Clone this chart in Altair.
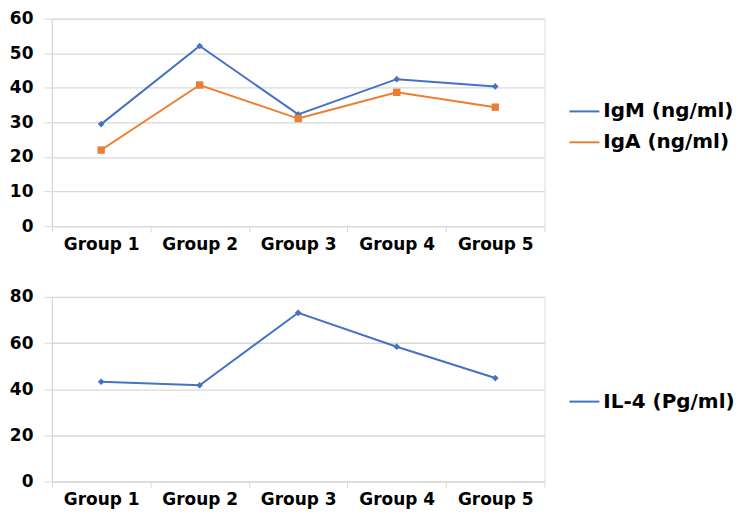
import altair as alt
import pandas as pd

groups = ["Group 1", "Group 2", "Group 3", "Group 4", "Group 5"]
igm = [29.5, 52.1, 32.3, 42.5, 40.4]
iga = [22.0, 40.8, 31.1, 38.7, 34.4]
il4 = [43.2, 41.7, 73.1, 58.4, 44.8]

s_igm = "IgM (ng/ml)"
s_iga = "IgA (ng/ml)"
s_il4 = "IL-4 (Pg/ml)"

BLUE = "#4472C4"
ORANGE = "#ED7D31"
GRID = "#d9d9d9"
FONT = "DejaVu Sans"

top_df = pd.DataFrame(
    {"group": groups * 2,
     "series": [s_igm] * 5 + [s_iga] * 5,
     "value": igm + iga}
)
bot_df = pd.DataFrame({"group": groups, "series": [s_il4] * 5, "value": il4})

W = 494


def xenc():
    return alt.X(
        "group:N", sort=groups, title=None,
        scale=alt.Scale(paddingInner=0, paddingOuter=0),
        axis=alt.Axis(labelAngle=0, labelFont=FONT, labelFontSize=17, labelFontWeight="bold",
                      labelColor="#000000", domainColor=GRID, tickColor=GRID, tickSize=6,
                      tickBand="extent", labelPadding=4, grid=False, domainWidth=1.3),
    )


def yenc(maxv, step):
    return alt.Y(
        "value:Q", title=None,
        scale=alt.Scale(domain=[0, maxv], nice=False),
        axis=alt.Axis(values=list(range(0, maxv + 1, step)), labelFont=FONT, labelFontSize=17,
                      labelFontWeight="bold", labelColor="#000000", domainColor=GRID,
                      tickColor=GRID, tickSize=8, gridColor=GRID, gridWidth=1.3,
                      labelPadding=11, domainWidth=1.3),
    )


def panel(df, domain, colors, shapes, sizes, maxv, step, h, ly):
    color_scale = alt.Scale(domain=domain, range=colors)
    line = alt.Chart(df).mark_line(strokeWidth=2).encode(
        x=xenc(), y=yenc(maxv, step),
        color=alt.Color("series:N", scale=color_scale, sort=domain,
                        legend=alt.Legend(title=None, orient="none", legendX=W + 24, legendY=ly,
                                          symbolType="stroke", symbolSize=900,
                                          symbolStrokeWidth=2, labelFont=FONT,
                                          labelFontSize=20, labelFontWeight="bold",
                                          labelColor="#000000", rowPadding=5,
                                          labelOffset=3)),
    )
    layers = [line]
    for s, c, shp, sz in zip(domain, colors, shapes, sizes):
        layers.append(
            alt.Chart(df).transform_filter(alt.datum.series == s)
            .mark_point(filled=True, opacity=1, color=c, shape=shp, size=sz)
            .encode(x=xenc(), y=yenc(maxv, step))
        )
    return alt.layer(*layers).properties(width=W, height=h)


top = panel(top_df, [s_igm, s_iga], [BLUE, ORANGE], ["diamond", "square"], [45, 55], 60, 10, 208, 77)
bot = panel(bot_df, [s_il4], [BLUE], ["diamond"], [45], 80, 20, 185, 89)

chart = alt.vconcat(top, bot, spacing=34).resolve_scale(color="independent").properties(
    padding={"left": 0, "top": 0, "right": 0, "bottom": 0}
).configure_view(stroke=None).configure(background="white")

chart.save("out.html", embed_options={"renderer": "svg", "actions": False})
